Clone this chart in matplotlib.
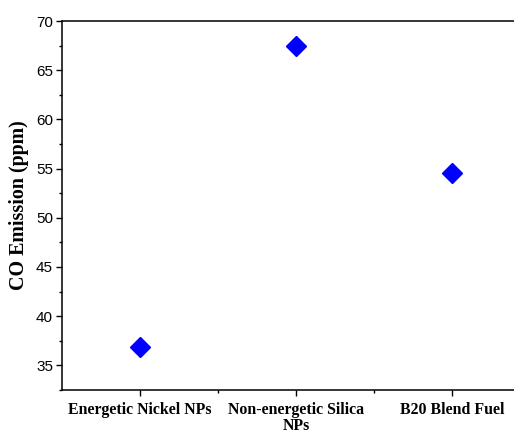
import matplotlib.pyplot as plt
import matplotlib.ticker as ticker

# data
categories = ['Energetic Nickel NPs', 'Non-energetic Silica\nNPs', 'B20 Blend Fuel']
co_emission = [36.85, 67.45, 54.55]
positions = [1, 2, 3]

fig = plt.figure(figsize=(5.14, 4.34), dpi=100)
# axes runs past the right edge of the figure like in the reference crop
ax = fig.add_axes([62 / 514, 1 - 390 / 434, 468 / 514, 369 / 434])

ax.plot(positions, co_emission, linestyle='none', marker='D', markersize=9.7,
        color='#0000ff', markeredgecolor='#0000ff')

ax.set_xlim(0.5, 3.5)
ax.set_ylim(32.5, 70)
ax.set_xticks(positions)
ax.set_xticklabels(categories, fontfamily='Liberation Serif', fontweight='bold',
                   fontsize=11.4, linespacing=1.0)
ax.xaxis.set_minor_locator(ticker.FixedLocator([1.5, 2.5]))
ax.yaxis.set_major_locator(ticker.MultipleLocator(5))
ax.yaxis.set_minor_locator(ticker.MultipleLocator(2.5))
for lbl in ax.get_yticklabels():
    lbl.set_fontfamily('Liberation Sans')
    lbl.set_fontsize(11)

ax.tick_params(which='major', direction='out', length=4.5, width=1, pad=2)
ax.tick_params(axis='x', which='major', pad=4)
ax.tick_params(which='minor', direction='out', length=2.5, width=1)
ax.tick_params(axis='x', which='both', top=False)

ax.set_ylabel('CO Emission (ppm)', fontfamily='Liberation Serif', fontweight='bold',
              fontsize=14.4, labelpad=5)

for s in ['left', 'bottom', 'top']:
    ax.spines[s].set_linewidth(1.1)

plt.savefig('out.png', dpi=100)
